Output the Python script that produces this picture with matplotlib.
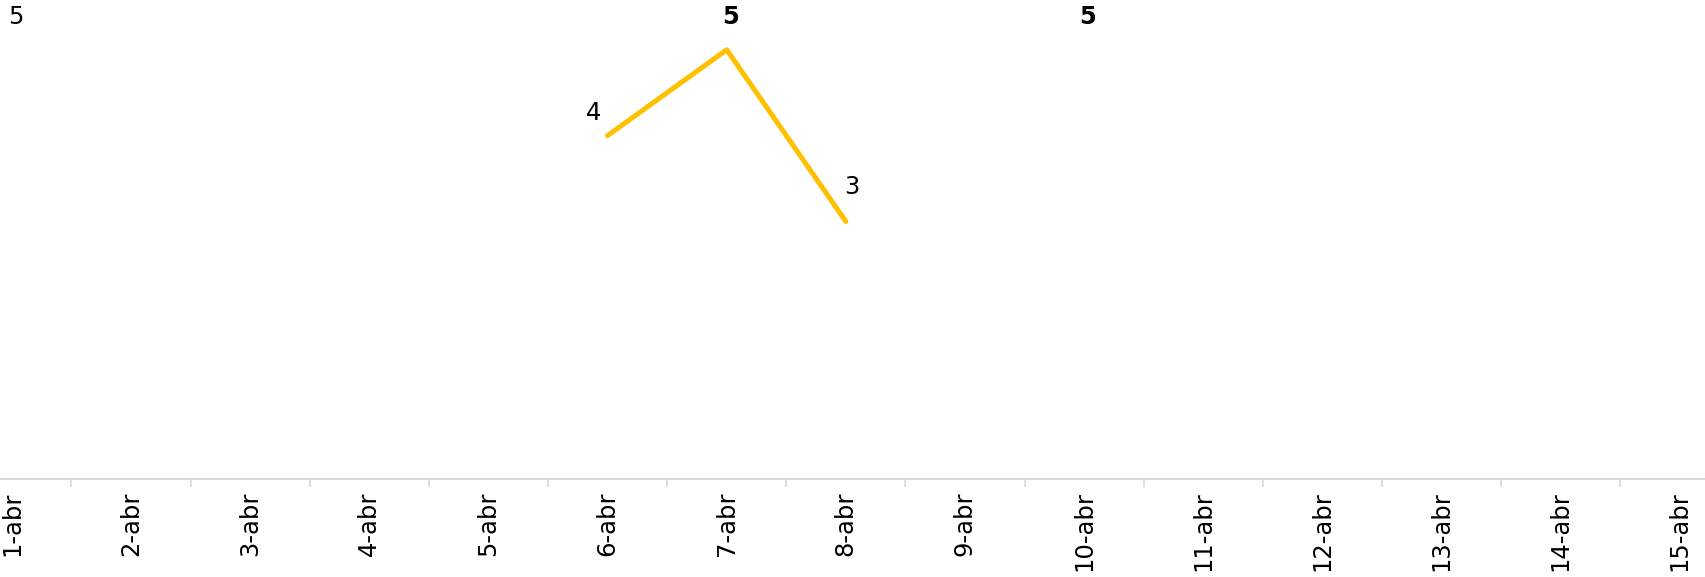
import numpy as np
import matplotlib.pyplot as plt

# Categories and values
days = [f"{d}-abr" for d in range(1, 16)]
line_days = [5, 6, 7]          # 6-abr .. 8-abr
line_vals = [4, 5, 3]
line_bold = [False, True, False]
line_offsets = [(-14, 23), (4, 33), (6, 34)]

# lone labels without visible marks
extra_days = [0, 9]
extra_vals = [5, 5]
extra_bold = [False, True]

plt.rcParams['font.family'] = ['DejaVu Sans']

fig = plt.figure(figsize=(17.06, 5.77), dpi=100)
ax = fig.add_axes([0, 0.17, 1, 0.83])

ax.plot(line_days, line_vals, color='#FFC000', lw=3.6,
        solid_capstyle='round', solid_joinstyle='round')

for x, y, b, off in zip(line_days, line_vals, line_bold, line_offsets):
    ax.annotate(str(y), (x, y), xytext=off, textcoords='offset pixels',
                ha='center', va='center', fontsize=17.5,
                fontweight='bold' if b else 'normal')

for x, y, b in zip(extra_days, extra_vals, extra_bold):
    ax.annotate(str(y), (x, y), xytext=(4, 33), textcoords='offset pixels',
                ha='center', va='center', fontsize=17.5,
                fontweight='bold' if b else 'normal')

ax.set_xlim(-0.1, 14.22)
ax.set_ylim(0, 5.58)

ax.set_xticks(np.arange(len(days)))
ax.set_xticklabels(days, rotation=90, va='top', fontsize=17.5)
ax.set_xticks(np.arange(len(days) - 1) + 0.5, minor=True)
ax.tick_params(axis='x', which='major', length=0, pad=9)
ax.tick_params(axis='x', which='minor', length=6, color='#D9D9D9', width=1.2)
ax.set_yticks([])

for s in ['top', 'right', 'left']:
    ax.spines[s].set_visible(False)
ax.spines['bottom'].set_color('#D9D9D9')
ax.spines['bottom'].set_linewidth(1.5)

fig.savefig('out.png', dpi=100)
